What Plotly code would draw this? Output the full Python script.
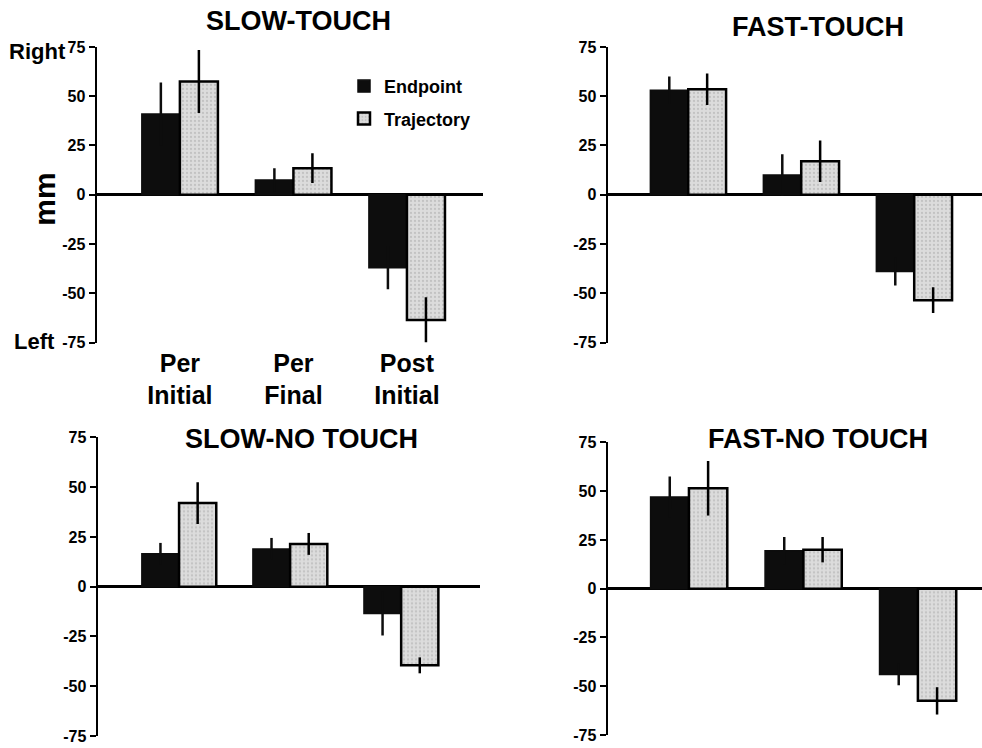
import plotly.graph_objects as go

# ---------------- data ----------------
categories = ["Per<br>Initial", "Per<br>Final", "Post<br>Initial"]
x_pos = [0, 1, 2]
panel_titles = ["SLOW-TOUCH", "FAST-TOUCH", "SLOW-NO TOUCH", "FAST-NO TOUCH"]
series_names = ["Endpoint", "Trajectory"]

slow_touch_endpoint = [41, 7.5, -37]
slow_touch_endpoint_err = [16, 6, 11]
slow_touch_trajectory = [57.5, 13.5, -63.5]
slow_touch_trajectory_err = [16, 7.5, 11.5]

fast_touch_endpoint = [53, 10, -39]
fast_touch_endpoint_err = [7, 10.5, 7]
fast_touch_trajectory = [53.5, 17, -53.5]
fast_touch_trajectory_err = [8, 10.5, 6.5]

slow_notouch_endpoint = [16.5, 19, -13.5]
slow_notouch_endpoint_err = [5.5, 5.5, 11]
slow_notouch_trajectory = [42, 21.5, -39.5]
slow_notouch_trajectory_err = [10.5, 5.5, 4]

fast_notouch_endpoint = [47, 19.5, -44]
fast_notouch_endpoint_err = [10.5, 7, 5.5]
fast_notouch_trajectory = [51.5, 20, -57.5]
fast_notouch_trajectory_err = [14, 6.5, 7]

y_tickvals = [75, 50, 25, 0, -25, -50, -75]
y_ticktext = ["75", "50", "25", "0", "-25", "-50", "-75"]

panels = [
    (slow_touch_endpoint, slow_touch_endpoint_err, slow_touch_trajectory, slow_touch_trajectory_err),
    (fast_touch_endpoint, fast_touch_endpoint_err, fast_touch_trajectory, fast_touch_trajectory_err),
    (slow_notouch_endpoint, slow_notouch_endpoint_err, slow_notouch_trajectory, slow_notouch_trajectory_err),
    (fast_notouch_endpoint, fast_notouch_endpoint_err, fast_notouch_trajectory, fast_notouch_trajectory_err),
]

# ---------------- layout geometry (pixels) ----------------
W, H = 982, 748
FONT = "Liberation Sans, Arial, Helvetica, sans-serif"
# the captured picture shows the paper between y=8 and y=740
Y_OFF, Y_SPAN = 8, 732


def fx(px):
    return px / W


def fy(py):
    return 1 - (py - Y_OFF) / Y_SPAN


# (x0, x1, ytop, ybottom, xrange)
geom = [
    (97, 483, 47, 343, [-0.73, 2.67]),
    (608, 982, 47, 343, [-0.71, 2.60]),
    (98, 480, 438, 737, [-0.73, 2.71]),
    (608, 982, 443, 736, [-0.707, 2.56]),
]
title_pos = [(298, 21), (818, 27), (301, 440), (818, 440)]

fig = go.Figure()
layout = dict(
    width=W, height=H, autosize=False,
    margin=dict(l=0, r=0, t=0, b=0),
    paper_bgcolor="white", plot_bgcolor="white",
    barmode="group", bargap=0.33, bargroupgap=0,
    font=dict(family=FONT, color="black", weight="bold"),
    showlegend=True,
    legend=dict(
        x=fx(344), y=fy(68), xanchor="left", yanchor="top",
        bgcolor="rgba(0,0,0,0)", font=dict(size=18, family=FONT, weight="bold"),
        tracegroupgap=6, itemwidth=30,
    ),
)

for i, (e, ee, t, te) in enumerate(panels):
    n = "" if i == 0 else str(i + 1)
    xa, ya = "x" + n, "y" + n
    fig.add_trace(go.Bar(
        x=x_pos, y=e, name=series_names[0], xaxis=xa, yaxis=ya,
        marker=dict(color="#0d0d0d", line=dict(color="#0d0d0d", width=1.5)),
        error_y=dict(type="data", array=ee, color="#0d0d0d", thickness=2.5, width=0),
        showlegend=(i == 0), legendgroup="e", offsetgroup="e",
    ))
    fig.add_trace(go.Bar(
        x=x_pos, y=t, name=series_names[1], xaxis=xa, yaxis=ya,
        marker=dict(color="#dcdcdc", line=dict(color="black", width=2.5),
                    pattern=dict(shape=".", fgcolor="#a8a8a8", size=4, solidity=0.25)),
        error_y=dict(type="data", array=te, color="black", thickness=2.5, width=0),
        showlegend=(i == 0), legendgroup="t", offsetgroup="t",
    ))
    x0, x1, yt, yb, xr = geom[i]
    layout["xaxis" + n] = dict(
        domain=[fx(x0), fx(x1)], range=xr, anchor=ya,
        showgrid=False, zeroline=False, showline=False, ticks="",
        tickvals=x_pos, ticktext=categories, showticklabels=(i == 0),
        tickfont=dict(size=25, family=FONT, weight="bold"),
        ticklabelstandoff=3,
        fixedrange=True,
    )
    layout["yaxis" + n] = dict(
        domain=[fy(yb), fy(yt)], range=[-75, 75], anchor=xa,
        showgrid=False, zeroline=True, zerolinecolor="black", zerolinewidth=2.5,
        showline=True, linecolor="black", linewidth=2.5,
        ticks="outside", ticklen=6, tickwidth=2, tickcolor="black",
        tickvals=y_tickvals, ticktext=y_ticktext,
        tickfont=dict(size=16, family=FONT, weight="bold"),
        fixedrange=True,
    )

annotations = []
for (tx, ty), title in zip(title_pos, panel_titles):
    annotations.append(dict(
        x=fx(tx), y=fy(ty), xref="paper", yref="paper", text=title,
        showarrow=False, xanchor="center", yanchor="middle",
        font=dict(size=27, family=FONT, weight="bold"),
    ))
annotations += [
    dict(x=fx(7), y=fy(52), xref="paper", yref="paper", text="Right",
         showarrow=False, xanchor="left", yanchor="middle",
         font=dict(size=22, family=FONT, weight="bold")),
    dict(x=fx(12), y=fy(342), xref="paper", yref="paper", text="Left",
         showarrow=False, xanchor="left", yanchor="middle",
         font=dict(size=22, family=FONT, weight="bold")),
    dict(x=fx(45), y=fy(200), xref="paper", yref="paper", text="mm",
         showarrow=False, xanchor="center", yanchor="middle", textangle=-90,
         font=dict(size=30, family=FONT, weight="bold")),
]
layout["annotations"] = annotations
fig.update_layout(**layout)

fig.write_html(
    "out.html",
    config={"displayModeBar": False, "staticPlot": True},
    post_script=(
        "document.documentElement.style.margin='0';"
        "document.body.style.margin='0';document.body.style.overflow='hidden';"
        "var d=document.querySelector('.plotly-graph-div');"
        "d.style.position='fixed';d.style.left='0px';d.style.top='0px';"
    ),
)
